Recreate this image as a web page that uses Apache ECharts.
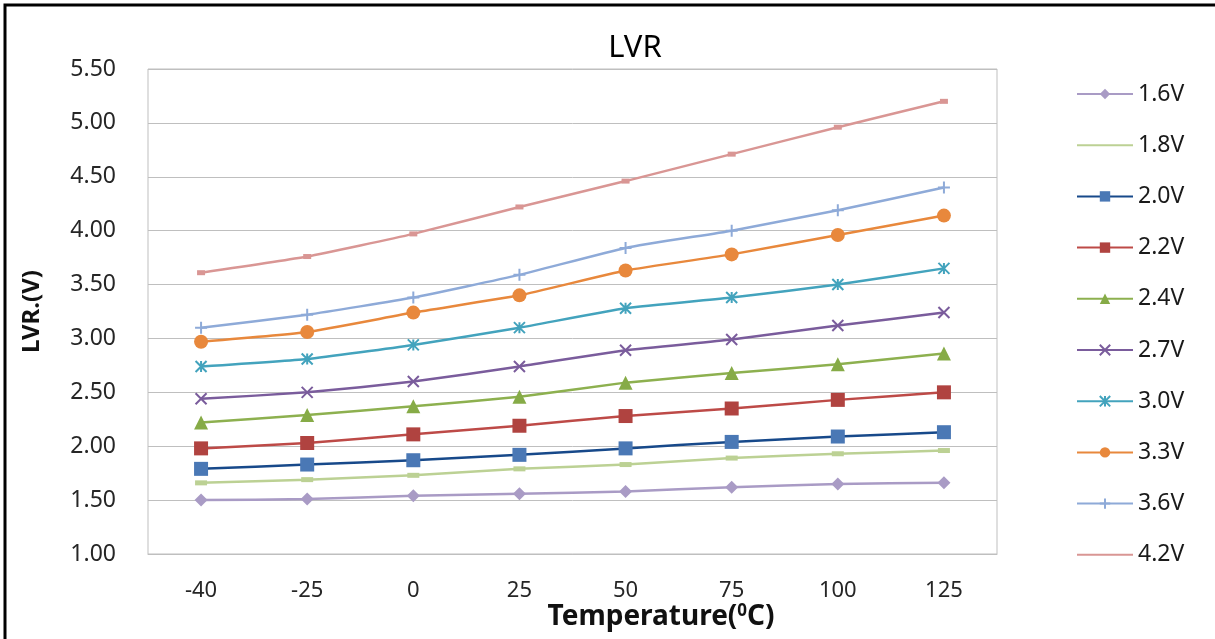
<!DOCTYPE html>
<html><head><meta charset="utf-8">
<script src="https://cdn.jsdelivr.net/npm/echarts@6/dist/echarts.min.js"></script>
<style>html,body{margin:0;padding:0;background:#fff}#c{width:1215px;height:639px}</style>
</head><body><div id="c"></div>
<script>
const categories = ['-40','-25','0','25','50','75','100','125'];
const yTicks = [1.0,1.5,2.0,2.5,3.0,3.5,4.0,4.5,5.0,5.5];
const seriesNames = ['1.6V','1.8V','2.0V','2.2V','2.4V','2.7V','3.0V','3.3V','3.6V','4.2V'];
const v16 = [1.50,1.51,1.54,1.56,1.58,1.62,1.65,1.66];
const v18 = [1.66,1.69,1.73,1.79,1.83,1.89,1.93,1.96];
const v20 = [1.79,1.83,1.87,1.92,1.98,2.04,2.09,2.13];
const v22 = [1.98,2.03,2.11,2.19,2.28,2.35,2.43,2.50];
const v24 = [2.22,2.29,2.37,2.46,2.59,2.68,2.76,2.86];
const v27 = [2.44,2.50,2.60,2.74,2.89,2.99,3.12,3.24];
const v30 = [2.74,2.81,2.94,3.10,3.28,3.38,3.50,3.65];
const v33 = [2.97,3.06,3.24,3.40,3.63,3.78,3.96,4.14];
const v36 = [3.10,3.22,3.38,3.59,3.84,4.00,4.19,4.40];
const v42 = [3.61,3.76,3.97,4.22,4.46,4.71,4.96,5.20];
const allValues = [v16,v18,v20,v22,v24,v27,v30,v33,v36,v42];

const styles = [
  {line:'#a99bc5', mark:'#a99bc5', symbol:'diamond', size:13},
  {line:'#bcd194', mark:'#bcd194', symbol:'rect', size:[12,5], legendPlain:true},
  {line:'#17498a', mark:'#4a78b5', symbol:'rect', size:14},
  {line:'#bd4a47', mark:'#b04340', symbol:'rect', size:14},
  {line:'#8db04f', mark:'#86ab47', symbol:'triangle', size:14},
  {line:'#7a5c9c', mark:'#7a5c9c', symbol:'path://M0,0L10,10M10,0L0,10', size:11, stroke:true},
  {line:'#43a3bd', mark:'#43a3bd', symbol:'path://M0,0L10,10M10,0L0,10M5,0L5,10', size:11, stroke:true},
  {line:'#e8883c', mark:'#e8883c', symbol:'circle', size:14},
  {line:'#8eaad8', mark:'#8eaad8', symbol:'path://M5,0L5,10M0,5L10,5', size:12, stroke:true},
  {line:'#d99694', mark:'#d99694', symbol:'rect', size:[8,5], legendPlain:true}
];

const FONT = 'Noto Sans';
const series = seriesNames.map((n,i)=>{
  const s = styles[i];
  const item = s.stroke ? {color:s.mark, borderColor:s.mark, borderWidth:2} : {color:s.mark, borderWidth:0};
  return {
    name:n, type:'line', data:allValues[i], smooth:0.15,
    symbol:s.symbol, symbolSize:s.size,
    lineStyle:{color:s.line, width:2.5},
    itemStyle:item,
    emphasis:{disabled:true}, animation:false
  };
});

const legendData = seriesNames.map((n,i)=> styles[i].legendPlain ? {name:n, itemStyle:{opacity:0}} : {name:n});

const chart = echarts.init(document.getElementById('c'), null, {renderer:'canvas'});
chart.setOption({
  animation:false,
  backgroundColor:'#fff',
  textStyle:{fontFamily:FONT},
  title:{text:'LVR', left:630, top:28, textAlign:'center',
    textStyle:{fontFamily:FONT, fontSize:31, fontWeight:'normal', color:'#000'}},
  grid:{left:148, right:218, top:69, bottom:85, show:true, borderColor:'#bfbfbf', borderWidth:1},
  legend:{orient:'vertical', left:1071, top:77, itemWidth:56, itemHeight:13, itemGap:27.2,
    data:legendData,
    textStyle:{fontFamily:FONT, fontSize:23, lineHeight:24, color:'#1a1a1a'}},
  xAxis:{type:'category', data:categories, boundaryGap:true,
    axisLine:{show:true, lineStyle:{color:'#bfbfbf'}}, axisTick:{show:false},
    axisLabel:{fontFamily:FONT, fontSize:22, color:'#262626', margin:26}},
  yAxis:{type:'value', min:yTicks[0], max:yTicks[yTicks.length-1], interval:0.5,
    name:'LVR.(V)', nameLocation:'middle', nameGap:104, nameRotate:90,
    nameTextStyle:{fontFamily:FONT, fontSize:24, fontWeight:'bold', color:'#111'},
    axisLine:{show:false}, axisTick:{show:false},
    splitLine:{lineStyle:{color:'#bfbfbf', width:1}},
    axisLabel:{fontFamily:FONT, fontSize:23, color:'#262626', margin:32, formatter:v=>v.toFixed(2)}},
  graphic:[
    {type:'polyline', shape:{points:[[5,640],[5,5],[1216,5]]}, style:{stroke:'#000', lineWidth:3, fill:null}, silent:true},
    {type:'text', x:661, y:617, silent:true, style:{
      text:'{a|Temperature(}{s|0}{a|C)}', align:'center', verticalAlign:'middle',
      rich:{a:{fontFamily:FONT, fontSize:28, fontWeight:'bold', fill:'#111'},
            s:{fontFamily:FONT, fontSize:17, fontWeight:'bold', fill:'#111', verticalAlign:'top', padding:[0,0,12,0]}}}}
  ],
  series:series
});
</script></body></html>
